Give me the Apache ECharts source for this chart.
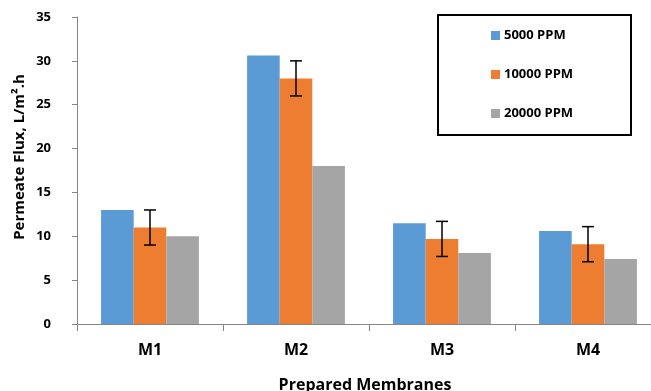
<!DOCTYPE html>
<html>
<head>
<meta charset="utf-8">
<script src="https://cdn.jsdelivr.net/npm/echarts@6/dist/echarts.min.js"></script>
<style>html,body{margin:0;padding:0;background:#fff;overflow:hidden;}#c{width:651px;height:391px;}</style>
</head>
<body>
<div id="c"></div>
<script>
var categories = ['M1', 'M2', 'M3', 'M4'];
var ppm5000 = [13, 30.6, 11.5, 10.6];
var ppm10000 = [11, 28, 9.7, 9.1];
var ppm20000 = [10, 18, 8.1, 7.4];
var err10000 = [2, 2, 2, 2];
var yTicks = [0, 5, 10, 15, 20, 25, 30, 35];

var FONT = '"Open Sans", "Liberation Sans", sans-serif';
var chart = echarts.init(document.getElementById('c'), null, {renderer: 'canvas'});

var errData = categories.map(function (c, i) {
  return [i, ppm10000[i] - err10000[i], ppm10000[i] + err10000[i]];
});

chart.setOption({
  animation: false,
  backgroundColor: '#fff',
  grid: {left: 77, top: 17, bottom: 67, right: -10, containLabel: false, outerBoundsMode: 'none'},
  legend: {
    orient: 'vertical',
    left: 491, top: 29,
    padding: 0,
    itemWidth: 9, itemHeight: 9, itemGap: 26,
    icon: 'rect',
    textStyle: {fontFamily: FONT, fontWeight: 'bold', fontSize: 13, color: '#000', padding: [0, 0, 0, -1]},
    data: ['5000 PPM', '10000 PPM', '20000 PPM']
  },
  graphic: [
    {type: 'rect', shape: {x: 438, y: 15, width: 193, height: 120}, style: {fill: 'none', stroke: '#000', lineWidth: 2}, z: 100},
    {type: 'text', x: 20, y: 157, rotation: Math.PI / 2,
     style: {text: 'Permeate Flux, L/m\u00B2.h', font: 'bold 15px ' + FONT, fill: '#000', textAlign: 'center', textVerticalAlign: 'middle'}}
  ],
  xAxis: {
    type: 'category',
    data: categories,
    name: 'Prepared Membranes',
    nameLocation: 'middle',
    nameGap: 53,
    nameTextStyle: {fontFamily: FONT, fontWeight: 'bold', fontSize: 16, color: '#000', padding: [0, 8, 0, 0]},
    axisLine: {lineStyle: {color: '#868686', width: 1}},
    axisTick: {show: true, length: 7, lineStyle: {color: '#868686'}},
    axisLabel: {fontFamily: FONT, fontWeight: 'bold', fontSize: 16, color: '#000', margin: 18}
  },
  yAxis: {
    type: 'value',
    min: 0, max: 35, interval: 5,
    splitLine: {show: false},
    axisLine: {show: true, lineStyle: {color: '#868686', width: 1}},
    axisTick: {show: true, length: 5, lineStyle: {color: '#868686'}},
    axisLabel: {fontFamily: FONT, fontWeight: 'bold', fontSize: 13, color: '#000', margin: 26,
      formatter: function (v) { return yTicks.indexOf(v) >= 0 ? String(v) : ''; }}
  },
  series: [
    {name: '5000 PPM', type: 'bar', data: ppm5000, barGap: '0%', barCategoryGap: '33%',
     itemStyle: {color: '#5B9BD5'}},
    {name: '10000 PPM', type: 'bar', data: ppm10000, barGap: '0%', barCategoryGap: '33%',
     itemStyle: {color: '#ED7D31'}},
    {name: '20000 PPM', type: 'bar', data: ppm20000, barGap: '0%', barCategoryGap: '33%',
     itemStyle: {color: '#A5A5A5'}},
    {
      type: 'custom',
      name: 'err',
      data: errData,
      z: 10,
      encode: {x: 0, y: [1, 2]},
      renderItem: function (params, api) {
        var i = api.value(0);
        var lo = api.coord([i, api.value(1)]);
        var hi = api.coord([i, api.value(2)]);
        var hw = 6;
        var st = {stroke: '#000', lineWidth: 1.5};
        return {
          type: 'group',
          children: [
            {type: 'line', shape: {x1: lo[0], y1: lo[1], x2: hi[0], y2: hi[1]}, style: st},
            {type: 'line', shape: {x1: hi[0] - hw, y1: hi[1], x2: hi[0] + hw, y2: hi[1]}, style: st},
            {type: 'line', shape: {x1: lo[0] - hw, y1: lo[1], x2: lo[0] + hw, y2: lo[1]}, style: st}
          ]
        };
      }
    }
  ]
});
</script>
</body>
</html>
